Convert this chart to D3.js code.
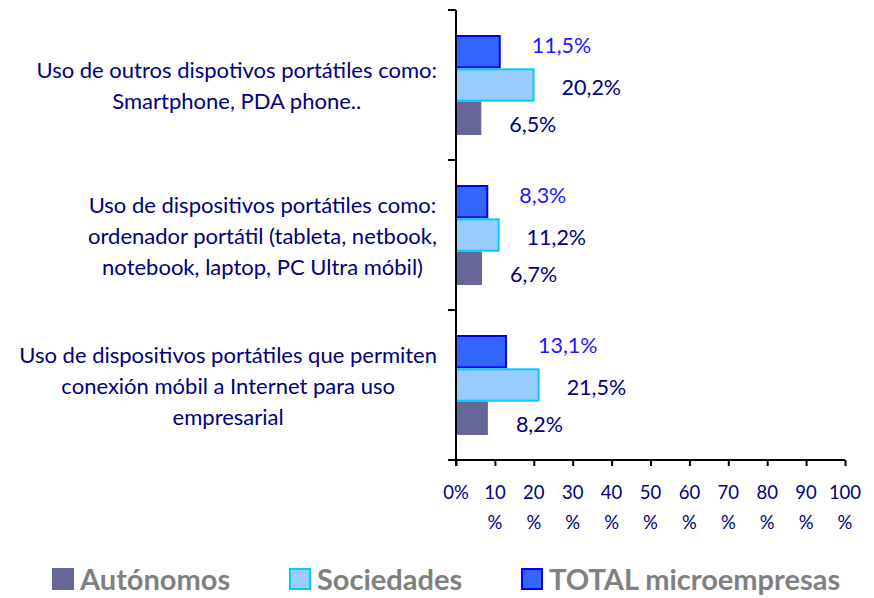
<!DOCTYPE html>
<html>
<head>
<meta charset="utf-8">
<script src="https://cdn.jsdelivr.net/npm/d3@7"></script>
<style>
  html, body { margin: 0; padding: 0; background: #fff; }
  svg { display: block; font-family: Lato, "Open Sans", sans-serif; }
</style>
</head>
<body>
<svg id="chart" width="874" height="598"></svg>
<script>
// ---- data ----
const categories = [
  ["Uso de outros dispotivos portátiles como:", "Smartphone, PDA phone.."],
  ["Uso de dispositivos portátiles como:", "ordenador portátil (tableta, netbook,", "notebook, laptop, PC Ultra móbil)"],
  ["Uso de dispositivos portátiles que permiten", "conexión móbil a Internet para uso", "empresarial"]
];
const seriesNames = ["Autónomos", "Sociedades", "TOTAL microempresas"];
const autonomos = [6.5, 6.7, 8.2];
const sociedades = [20.2, 11.2, 21.5];
const totalMicro = [11.5, 8.3, 13.1];
const xTicks = [0, 10, 20, 30, 40, 50, 60, 70, 80, 90, 100];
const xTickLabels = [["0%"], ["10", "%"], ["20", "%"], ["30", "%"], ["40", "%"], ["50", "%"], ["60", "%"], ["70", "%"], ["80", "%"], ["90", "%"], ["100", "%"]];

// ---- styles ----
const fills   = { "Autónomos": "#666699", "Sociedades": "#99CCFF", "TOTAL microempresas": "#3366FF" };
const strokes = { "Autónomos": "none",    "Sociedades": "#00CCFF", "TOTAL microempresas": "#0000FF" };
const labelColor = { "Autónomos": "#000080", "Sociedades": "#000080", "TOTAL microempresas": "#1A1AFF" };
const labelDy = { "Autónomos": 6, "Sociedades": 2, "TOTAL microempresas": -6 };
const labelDx = { "Autónomos": 28, "Sociedades": 27, "TOTAL microempresas": 31 };

const seriesValues = { "Autónomos": autonomos, "Sociedades": sociedades, "TOTAL microempresas": totalMicro };
const catIds = categories.map((c, i) => "c" + i);

const svg = d3.select("#chart");

const x = d3.scaleLinear().domain([0, 100]).range([456, 845]);
const y0 = d3.scaleBand().domain(catIds).range([10, 460]).padding(0);
const barOrder = ["TOTAL microempresas", "Sociedades", "Autónomos"]; // top to bottom within group
const y1 = d3.scaleBand().domain(barOrder).range([0, y0.bandwidth()]).paddingInner(0).paddingOuter(0.75);

// bars
const groups = svg.append("g").selectAll("g")
  .data(catIds).join("g")
  .attr("transform", d => `translate(0,${y0(d)})`);

groups.selectAll("rect")
  .data((d, i) => barOrder.map(s => ({ s, v: seriesValues[s][i] })))
  .join("rect")
  .attr("x", x(0))
  .attr("y", d => y1(d.s) + (strokes[d.s] === "none" ? 0 : 1))
  .attr("width", d => x(d.v) - x(0) - (strokes[d.s] === "none" ? 0 : 1))
  .attr("height", d => y1.bandwidth() - (strokes[d.s] === "none" ? 0 : 2))
  .attr("fill", d => fills[d.s])
  .attr("stroke", d => strokes[d.s])
  .attr("stroke-width", 2);

// data labels
groups.selectAll("text.val")
  .data((d, i) => barOrder.map(s => ({ s, v: seriesValues[s][i] })))
  .join("text")
  .attr("class", "val")
  .attr("x", d => x(d.v) + labelDx[d.s])
  .attr("y", d => y1(d.s) + y1.bandwidth() / 2 + labelDy[d.s])
  .attr("dy", "0.36em")
  .attr("fill", d => labelColor[d.s])
  .style("font-size", "21.5px")
  .text(d => d.v.toFixed(1).replace(".", ",") + "%");

// x axis
const xAxis = d3.axisBottom(x).tickValues(xTicks).tickSize(6).tickFormat("");
const gx = svg.append("g").attr("transform", "translate(0,460)").call(xAxis);
gx.select(".domain").attr("stroke", "#000").attr("stroke-width", 2).attr("d", `M${x(0) - 8},0H${x(100)}`);
gx.selectAll(".tick line").attr("stroke", "#000").attr("stroke-width", 2);
gx.selectAll(".tick text").remove();

const tl = svg.append("g").selectAll("text")
  .data(xTicks.map((v, i) => ({ v, lines: xTickLabels[i] })))
  .join("text")
  .attr("fill", "#000080")
  .attr("text-anchor", "middle")
  .style("font-size", "18.5px");
tl.each(function (d) {
  const t = d3.select(this);
  d.lines.forEach((ln, j) => {
    t.append("tspan").attr("x", x(d.v)).attr("y", 499 + j * 30).text(ln);
  });
});

// y axis (category boundaries)
const yLine = svg.append("g");
yLine.append("path").attr("d", `M${x(0)},${y0.range()[0]}V${y0.range()[1] + 6}`)
  .attr("stroke", "#000").attr("stroke-width", 2).attr("fill", "none");
const boundaries = catIds.map(c => y0(c)).concat([y0.range()[1]]);
yLine.selectAll("line").data(boundaries).join("line")
  .attr("x1", x(0) - 8).attr("x2", x(0)).attr("y1", d => d).attr("y2", d => d)
  .attr("stroke", "#000").attr("stroke-width", 2);

// category labels: centered block, right-aligned to fixed edge
const rightEdge = 437, lineH = 31;
catIds.forEach((c, i) => {
  const lines = categories[i];
  const cy = y0(c) + y0.bandwidth() / 2;
  const t = svg.append("text")
    .attr("fill", "#000080")
    .style("font-size", "22px")
    .attr("text-anchor", "middle");
  lines.forEach((ln, j) => {
    t.append("tspan").attr("x", 0)
      .attr("y", cy + 1 + (j - (lines.length - 1) / 2) * lineH)
      .attr("dy", "0.36em")
      .text(ln);
  });
  let maxW = 0;
  t.selectAll("tspan").each(function () { maxW = Math.max(maxW, this.getComputedTextLength()); });
  t.selectAll("tspan").attr("x", rightEdge - maxW / 2);
});

// legend
const legendX = [52, 289, 521];
const lg = svg.append("g").selectAll("g").data(seriesNames).join("g")
  .attr("transform", (d, i) => `translate(${legendX[i]},568)`);
lg.append("rect")
  .attr("x", d => strokes[d] === "none" ? 0 : 1)
  .attr("y", d => strokes[d] === "none" ? 0 : 1)
  .attr("width", d => strokes[d] === "none" ? 22 : 20)
  .attr("height", d => strokes[d] === "none" ? 22 : 20)
  .attr("fill", d => fills[d]).attr("stroke", d => strokes[d]).attr("stroke-width", 2);
lg.append("text")
  .attr("x", 28).attr("y", 22)
  .attr("fill", "#808080")
  .style("font-size", "29px")
  .style("font-weight", "bold")
  .text(d => d);
</script>
</body>
</html>
